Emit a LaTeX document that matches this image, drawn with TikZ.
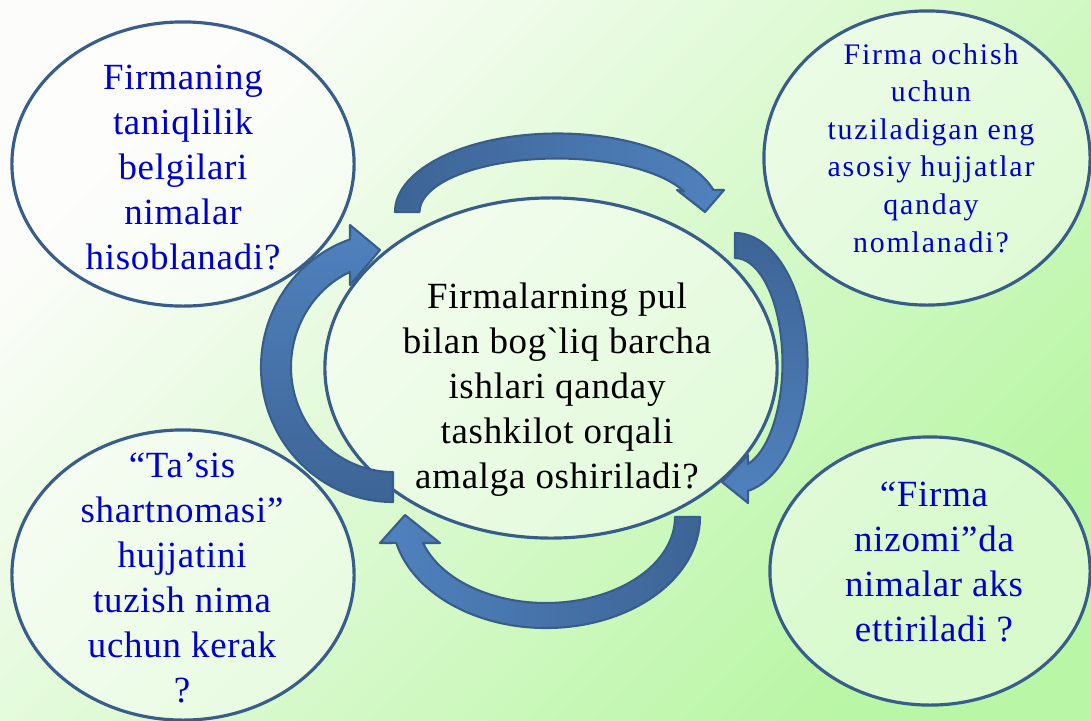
\documentclass[tikz,border=0pt]{standalone}
\usepackage{fontspec}
\setmainfont[LetterSpace=2]{Liberation Serif}
\newfontfamily\widefont[LetterSpace=6]{Liberation Serif}
\usetikzlibrary{shapes.geometric,calc}

\definecolor{bgtop}{RGB}{252,253,250}
\definecolor{bgbot}{RGB}{185,246,165}
\definecolor{rimblue}{RGB}{56,93,138}
\definecolor{arrdark}{RGB}{61,100,150}
\definecolor{arrlight}{RGB}{80,130,190}
\definecolor{qblue}{RGB}{0,0,204}

\tikzset{
  bubble/.style={ellipse,draw=rimblue,line width=0.9pt,fill=white,fill opacity=0.45,inner sep=0pt},
  qtext/.style={align=center,text=qblue,font=\fontsize{10.5}{12.8}\selectfont},
  band/.style={draw=rimblue,line width=0.6pt,line join=round},
}

\begin{document}
\begin{tikzpicture}[x=0.01cm,y=0.01cm]
	\useasboundingbox (0,0) rectangle (1091,720);
	\shade[top color=bgtop,bottom color=bgbot,shading angle=45] (0,0) rectangle (1091,720);
	% savollar
	\node[bubble,minimum width=3.42cm,minimum height=2.84cm] (belgi) at (183,556) {};
	\node[bubble,minimum width=3.26cm,minimum height=2.94cm] (hujjat) at (927,562) {};
	\node[bubble,minimum width=3.42cm,minimum height=2.90cm] (tasis) at (183,145) {};
	\node[bubble,minimum width=3.20cm,minimum height=2.68cm] (nizom) at (930,149) {};
	\node[bubble,minimum width=4.52cm,minimum height=3.40cm] (markaz) at (551,352) {};
	\node[qtext] (belgitxt) at (183,552) {Firmaning\\taniqlilik\\belgilari\\nimalar\\hisoblanadi?};
	\node[qtext,font=\widefont\fontsize{8.5}{10.7}\selectfont] (hujjattxt) at (931,572) {Firma ochish\\uchun\\tuziladigan eng\\asosiy hujjatlar\\qanday\\nomlanadi?};
	\node[qtext] (tasistxt) at (182,142) {“Ta’sis\\shartnomasi”\\hujjatini\\tuzish nima\\uchun kerak\\?};
	\node[qtext] (nizomtxt) at (934,158) {“Firma\\nizomi”da\\nimalar aks\\ettiriladi ?};
	\node[qtext,text=black] (markaztxt) at (557,330) {Firmalarning pul\\bilan bog\textasciigrave liq barcha\\ishlari qanday\\tashkilot orqali\\amalga oshiriladi?};
	% aylanma strelkalar
	\draw[band,left color=arrdark,right color=arrlight]
		(395,508) arc[start angle=180,end angle=16.3,x radius=162.5,y radius=78.5]
		-- (724,530) -- (705,508) -- (677,530)
		-- ($(557,508)+(22.5:137.5 and 53.5)$)
		arc[start angle=22.5,end angle=180,x radius=137.5,y radius=53.5] -- cycle;
	\draw[band,top color=arrdark,bottom color=arrlight]
		(735,487) arc[start angle=90,end angle=-79.7,x radius=72.5,y radius=130]
		-- (748,217) -- (722,238) -- (748,265)
		-- ($(735,357)+(-74.1:47.5 and 105)$)
		arc[start angle=-74.1,end angle=90,x radius=47.5,y radius=105] -- cycle;
	\draw[band,left color=arrlight,right color=arrdark]
		(700,203) arc[start angle=0,end angle=-166.5,x radius=154,y radius=111]
		-- (380,177) -- (405,205) -- (440,177)
		-- ($(546,203)+(-162.4:129 and 86)$)
		arc[start angle=-162.4,end angle=0,x radius=129,y radius=86] -- cycle;
	\draw[band,top color=arrlight,bottom color=arrdark]
		(393,218) arc[start angle=-90,end angle=-251,x radius=132,y radius=135]
		-- (350,495) -- (380,470) -- (350,435)
		-- ($(393,353)+(-245.1:102 and 105)$)
		arc[start angle=-245.1,end angle=-90,x radius=102,y radius=105] -- cycle;
\end{tikzpicture}
\end{document}
